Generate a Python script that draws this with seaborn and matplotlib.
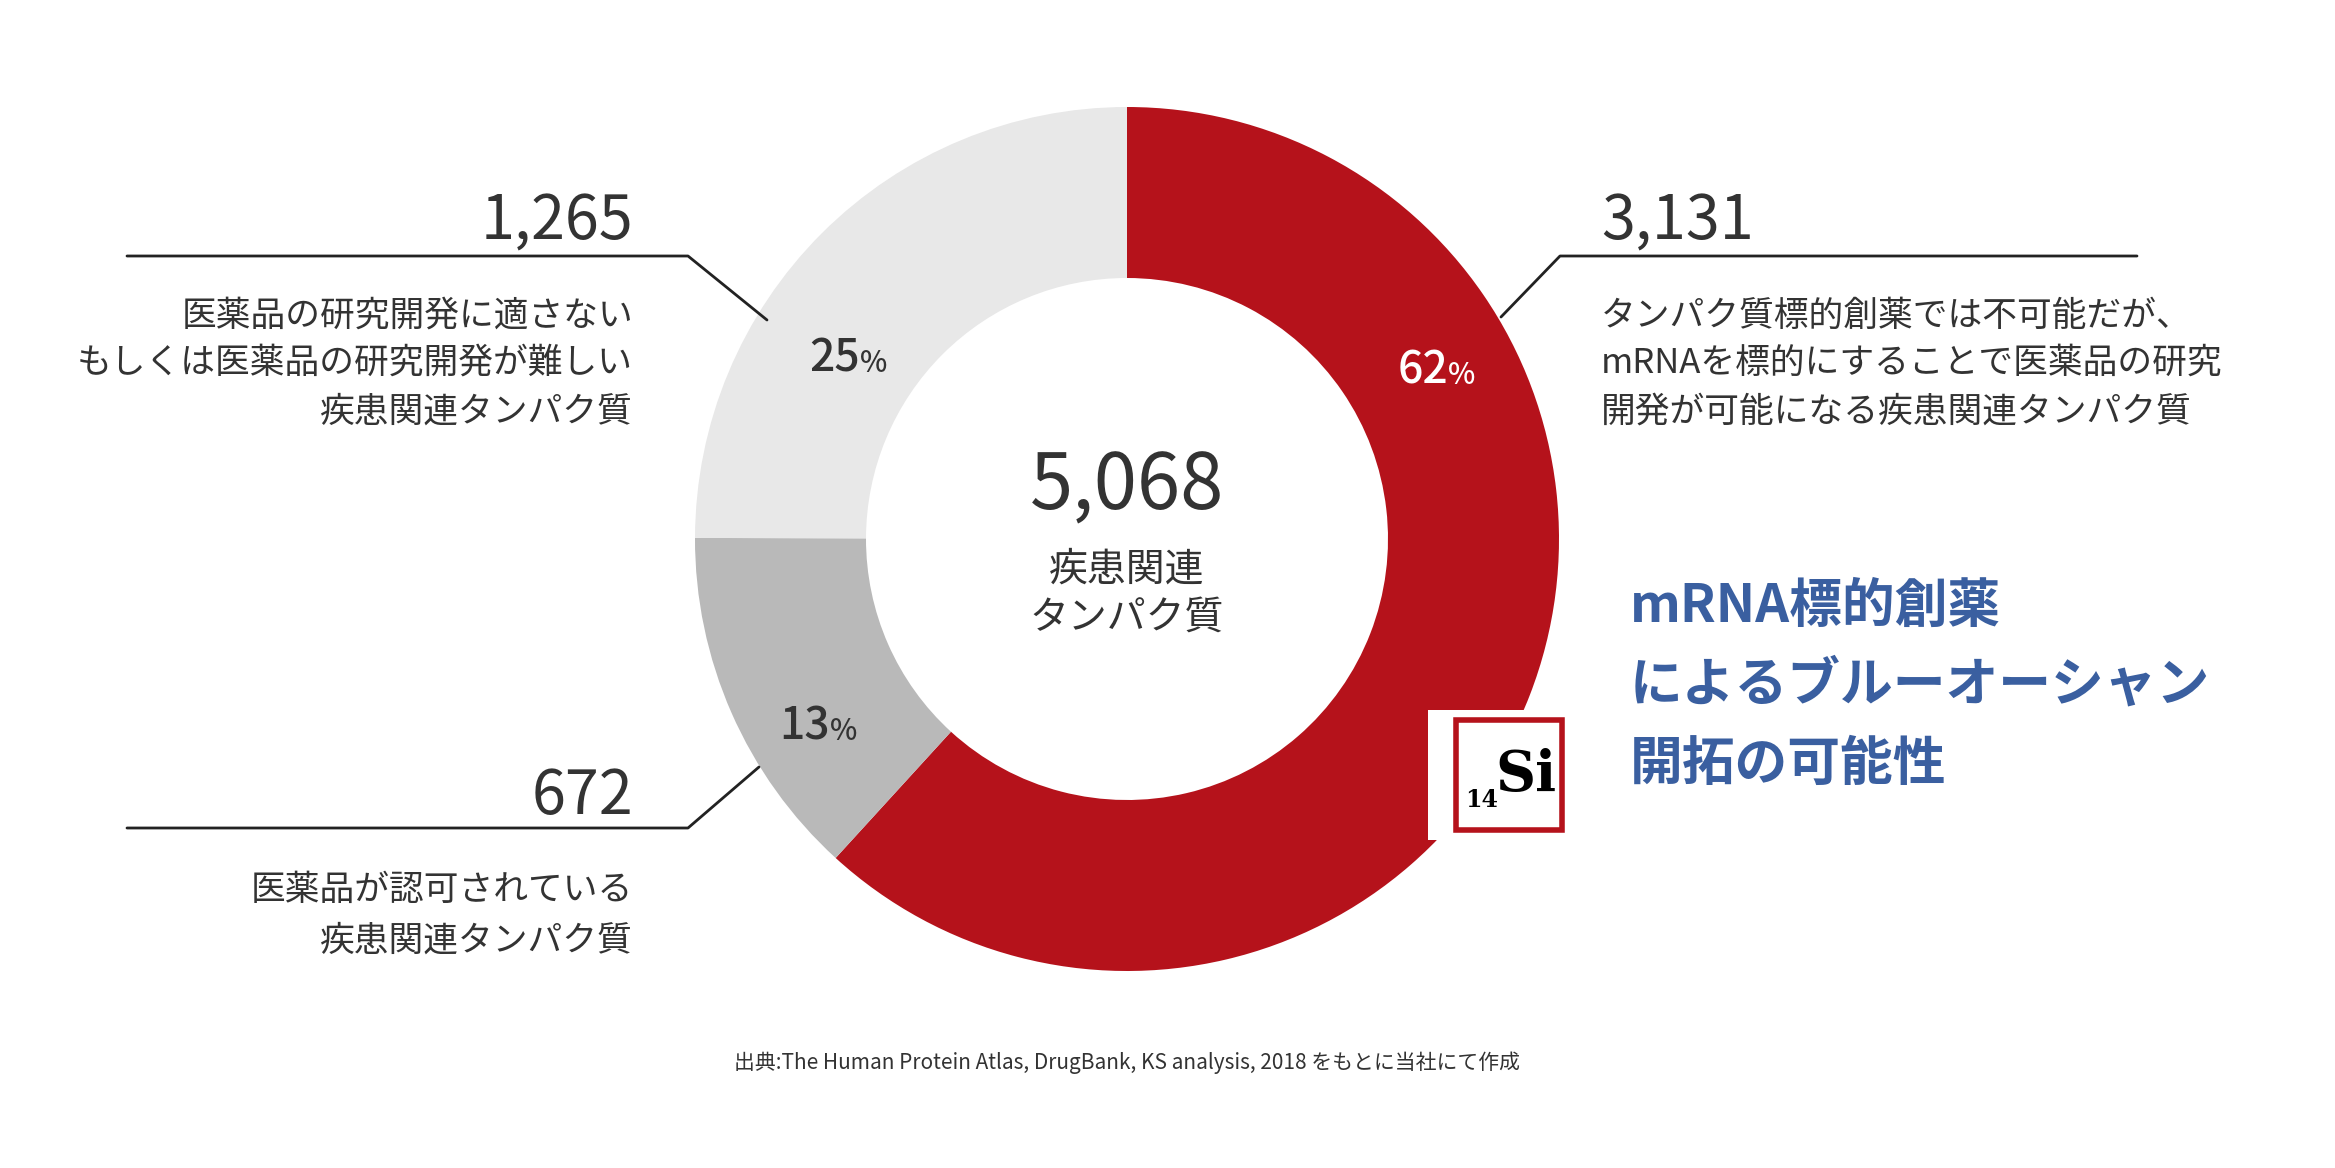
import matplotlib.pyplot as plt
import matplotlib.patches as patches
import seaborn as sns

# data
labels = ["mRNA標的", "承認済", "困難"]
counts = [3131, 672, 1265]
shares = ["62", "13", "25"]
colors = ["#b5121b", "#b9b9b9", "#e8e8e8"]
total = 5068

sns.set_theme(style="white")
plt.rcParams["font.family"] = ["Noto Sans CJK JP", "DejaVu Sans"]

W, H = 2335, 1168
fig = plt.figure(figsize=(W / 100, H / 100), dpi=100)
ax = fig.add_axes([0, 0, 1, 1])
ax.set_xlim(0, W)
ax.set_ylim(H, 0)
ax.axis("off")

cx, cy, r_out, r_in = 1127, 539, 432, 261
# y axis is inverted, so counterclock=True draws clockwise on screen
ax.pie(counts, colors=colors, startangle=-90, counterclock=True,
       center=(cx, cy), radius=r_out, wedgeprops=dict(width=r_out - r_in, linewidth=0))
ax.set_xlim(0, W)
ax.set_ylim(H, 0)
ax.set_aspect("equal")

txt = "#333333"

def pct(x, y, s, c):
    ax.text(x, y, s, ha="right", va="baseline", fontsize=32, color=c, fontweight="medium")
    ax.text(x, y, "%", ha="left", va="baseline", fontsize=21, color=c, fontweight="medium")

pct(860, 372, shares[2], txt)
pct(1448, 384, shares[0], "white")
pct(830, 740, shares[1], txt)

# center
ax.text(cx, 488, f"{total:,}", ha="center", va="center", fontsize=56, color=txt)
ax.text(cx, 570, "疾患関連", ha="center", va="center", fontsize=28, color=txt)
ax.text(cx, 618, "タンパク質", ha="center", va="center", fontsize=28, color=txt)

# leader lines
lk = dict(color="#222222", lw=2)
ax.plot([127, 688, 767], [256, 256, 320], **lk)
ax.plot([127, 688, 759], [828, 828, 767], **lk)
ax.plot([2137, 1560, 1501], [256, 256, 317], **lk)

ax.text(633, 222, f"{counts[2]:,}", ha="right", va="center", fontsize=44, color=txt)
for y, s in zip([316, 363, 412], ["医薬品の研究開発に適さない",
                                   "もしくは医薬品の研究開発が難しい",
                                   "疾患関連タンパク質"]):
    ax.text(633, y, s, ha="right", va="center", fontsize=25, color=txt)

ax.text(633, 797, f"{counts[1]:,}", ha="right", va="center", fontsize=44, color=txt)
for y, s in zip([890, 941], ["医薬品が認可されている", "疾患関連タンパク質"]):
    ax.text(633, y, s, ha="right", va="center", fontsize=25, color=txt)

ax.text(1601, 222, f"{counts[0]:,}", ha="left", va="center", fontsize=44, color=txt)
for y, s in zip([316, 363, 412], ["タンパク質標的創薬では不可能だが、",
                                   "mRNAを標的にすることで医薬品の研究",
                                   "開発が可能になる疾患関連タンパク質"]):
    ax.text(1601, y, s, ha="left", va="center", fontsize=25, color=txt)

# blue headline
for y, s in zip([606, 685, 764], ["mRNA標的創薬", "によるブルーオーシャン", "開拓の可能性"]):
    ax.text(1630, y, s, ha="left", va="center", fontsize=38, color="#3a5fa0", fontweight="bold")

# Si badge
ax.add_patch(patches.Rectangle((1428, 710), 140, 130, facecolor="white", edgecolor="none", zorder=3))
ax.add_patch(patches.Rectangle((1456, 720), 106, 110, facecolor="white", edgecolor="#b5121b", lw=4, zorder=4))
ax.text(1482, 800, "14", ha="center", va="center", fontsize=17, family="DejaVu Serif",
        fontweight="bold", color="black", zorder=5)
ax.text(1526, 775, "Si", ha="center", va="center", fontsize=40, family="DejaVu Serif",
        fontweight="bold", color="black", zorder=5)

ax.text(cx, 1063, "出典:The Human Protein Atlas, DrugBank, KS analysis, 2018 をもとに当社にて作成",
        ha="center", va="center", fontsize=15, color=txt)

fig.savefig("out.png", dpi=100, facecolor="white")
